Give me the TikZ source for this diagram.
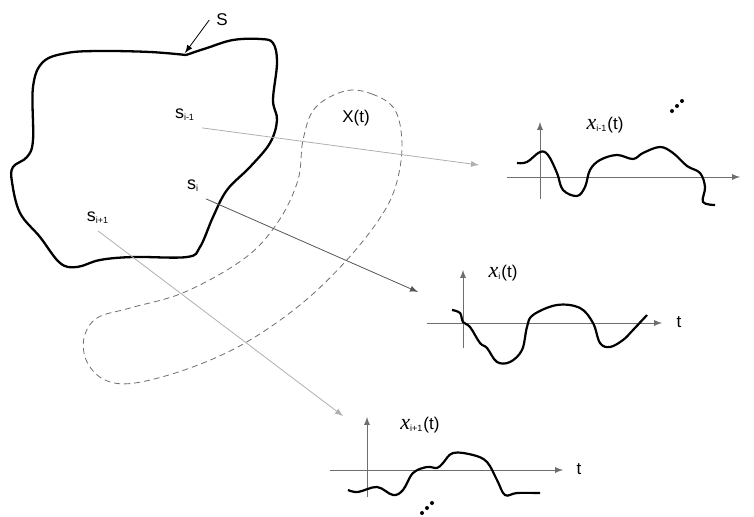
\documentclass[tikz,border=0pt]{standalone}
\usepackage{fontspec}
\setmainfont{Liberation Sans}
\newfontfamily\xfont{Liberation Serif}
\usepackage{xcolor}
\definecolor{rayfaint}{RGB}{175,175,175}
\definecolor{raydark}{RGB}{85,85,85}
\definecolor{axisgray}{RGB}{110,110,110}
\newcommand{\xsig}[1]{{\xfont\fontsize{11}{12}\selectfont\itshape x}\textsubscript{\fontsize{4.5}{5}\selectfont #1}(t)}
\newcommand{\ssub}[1]{{\fontsize{9}{10}\selectfont s}\textsubscript{\fontsize{4.5}{5}\selectfont #1}}

\begin{document}
\begin{tikzpicture}[>=latex, x=0.5pt, y=-0.5pt, font=\fontsize{8.5}{10}\selectfont]
    \useasboundingbox (0,0) rectangle (754,517);

    % Conjunto S
    \draw[line width=1.15pt] plot[smooth, tension=0.6] coordinates {
        (186,55) (150,52) (100,51) (67,53) (43,62) (33,87) (33,140) (27,157)
        (13,167) (12,182) (20,213) (40,237) (60,263) (77,267) (100,260)
        (133,257) (187,257) (200,247) (213,217) (227,190) (250,167) (270,143)
        (277,120) (273,100) (277,63) (273,43) (260,39) (233,40) (207,48) (186,55)};
    \node (S) at (222,20) {S};
    \coordinate (Stip) at (185,53);
    \draw[->, thin] (S.west) -- (Stip);

    % Proceso X(t)
    \draw[axisgray, dash pattern=on 3pt off 2pt, thin] plot[smooth cycle, tension=0.6] coordinates {
        (345,91) (372,94) (395,110) (402,145) (396,185) (380,218) (345,262)
        (300,305) (245,343) (190,368) (135,383) (105,380) (87,362) (84,338)
        (97,318) (130,308) (185,292) (245,258) (278,222) (298,180) (303,140) (315,108)};
    \node (Xt) at (356,118) {X(t)};

    % Puntos muestrales
    \node (si1) at (185,115) {\ssub{i-1}};
    \node (si) at (193,186) {\ssub{i}};
    \node (si2) at (98,218) {\ssub{i+1}};
    \coordinate (tipa) at (479,165);
    \coordinate (tipb) at (418,292);
    \coordinate (tipc) at (343,416);
    \draw[->, rayfaint, thin] (si1.south east) -- (tipa);
    \draw[->, raydark, thin] (si.south east) -- (tipb);
    \draw[->, rayfaint, thin] (si2.south) -- (tipc);

    % Realizacion x_{i-1}(t)
    \draw[->, axisgray, thin] (507,177) -- (740,177);
    \draw[->, axisgray, thin] (540,199) -- (540,122);
    \node (xa) at (605,125) {\xsig{i-1}};
    \node (ta) at (759,172) {t};
    \draw[line width=1.1pt] plot[smooth, tension=0.6] coordinates {
        (517,163) (527,162) (540,152) (548,155) (557,173) (563,190) (577,196)
        (585,187) (590,170) (600,160) (617,155) (633,159) (643,153) (660,147)
        (673,153) (687,166) (700,173) (705,187) (703,202) (715,205)};
    % puntos suspensivos
    \foreach \d in {0,5,10} \fill (672+\d,111-\d) circle (2);

    % Realizacion x_i(t)
    \draw[->, axisgray, thin] (427,323) -- (662,323);
    \draw[->, axisgray, thin] (463,348) -- (463,270);
    \node (xb) at (503,273) {\xsig{i}};
    \node (tb) at (679,322) {t};
    \draw[line width=1.1pt] plot[smooth, tension=0.6] coordinates {
        (452,310) (460,313) (463,322) (470,327) (480,343) (487,348) (497,362)
        (510,362) (522,350) (527,327) (533,315) (557,305) (580,308) (593,323)
        (600,343) (610,347) (623,340) (633,330) (647,315)};

    % Realizacion x_{i+1}(t)
    \draw[->, axisgray, thin] (330,470) -- (563,470);
    \draw[->, axisgray, thin] (367,497) -- (367,417);
    \node (xc) at (420,425) {\xsig{i+1}};
    \node (tc) at (579,469) {t};
    \draw[line width=1.1pt] plot[smooth, tension=0.6] coordinates {
        (348,490) (358,492) (377,487) (393,495) (403,490) (413,473) (427,467)
        (437,468) (443,463) (453,453) (473,455) (487,462) (497,480) (505,495)
        (517,493) (540,493)};
    % puntos suspensivos
    \foreach \d in {0,5,10} \fill (422+\d,513-\d) circle (2);
\end{tikzpicture}
\end{document}
